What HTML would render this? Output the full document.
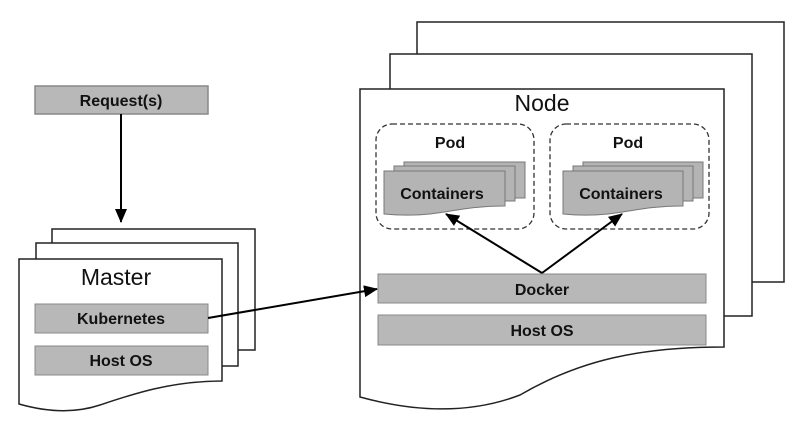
<!DOCTYPE html>
<html><head><style>
html,body{margin:0;padding:0;background:#fff;}
svg{display:block;}
text{font-family:"Liberation Sans",Arial,sans-serif;}
.b{font-weight:bold;font-size:16px;text-anchor:middle;fill:#111;}
</style></head><body>
<svg width="800" height="433" viewBox="0 0 800 433">
<defs>
<marker id="ah2" markerWidth="14" markerHeight="12" refX="13" refY="6" orient="auto" markerUnits="userSpaceOnUse" viewBox="0 0 14 12">
<path d="M0,0 L14,6 L0,12 z" fill="#000"/></marker>
</defs>
<g stroke="#222" stroke-width="1.5" fill="#fff">
<rect x="35" y="86" width="173" height="28" fill="#b8b8b8" stroke="#888"/>
<path d="M52,229 H255 V350 H52 Z"/>
<path d="M36,243 H238 V366 H36 Z"/>
<path d="M19,259 H222 V381 C170,381 130,395 100,405 C70,415 40,410 19,404 Z"/>
<path d="M417,22 H784 V282 H417 Z"/>
<path d="M390,54 H752 V316 H390 Z"/>
<path d="M360,89 H724 V347 C640,347 580,360 520,395 C460,418 400,408 360,397 Z"/>
</g>
<text x="121" y="106" class="b">Request(s)</text>
<line x1="121" y1="114" x2="121" y2="222" stroke="#000" stroke-width="2" marker-end="url(#ah2)"/>
<text x="116" y="285" font-size="23" text-anchor="middle" fill="#111">Master</text>
<rect x="35" y="304" width="173" height="29" fill="#b8b8b8" stroke="#888"/>
<text x="121" y="324" class="b">Kubernetes</text>
<rect x="35" y="346" width="173" height="29" fill="#b8b8b8" stroke="#888"/>
<text x="121" y="366" class="b">Host OS</text>
<text x="542" y="111" font-size="23" text-anchor="middle" fill="#111">Node</text>
<rect x="376" y="124" width="158" height="105" rx="16" fill="none" stroke="#333" stroke-width="1.3" stroke-dasharray="5,3"/>
<rect x="550" y="124" width="159" height="105" rx="16" fill="none" stroke="#333" stroke-width="1.3" stroke-dasharray="5,3"/>
<text x="450" y="148" class="b" font-size="17">Pod</text>
<text x="628" y="148" class="b" font-size="17">Pod</text>
<g fill="#b4b4b4" stroke="#777" stroke-width="1">
<rect x="404" y="162" width="121" height="36"/>
<rect x="394" y="166" width="121" height="35"/>
<path d="M384,171 H505 V206 C470,206 450,212 430,214 C410,216 395,215 384,214 Z"/>
<rect x="583" y="162" width="120" height="36"/>
<rect x="573" y="166" width="120" height="35"/>
<path d="M563,171 H683 V206 C648,206 628,212 608,214 C588,216 573,215 563,214 Z"/>
</g>
<text x="442" y="199" class="b">Containers</text>
<text x="621" y="199" class="b">Containers</text>
<rect x="378" y="274" width="328" height="29" fill="#b8b8b8" stroke="#888"/>
<text x="542" y="295" class="b" font-size="17">Docker</text>
<rect x="378" y="315" width="328" height="30" fill="#b8b8b8" stroke="#888"/>
<text x="542" y="336" class="b" font-size="17">Host OS</text>
<g stroke="#000" stroke-width="2" fill="none">
<line x1="542" y1="273" x2="446" y2="214" marker-end="url(#ah2)"/>
<line x1="542" y1="273" x2="622" y2="214" marker-end="url(#ah2)"/>
<line x1="208" y1="318" x2="377" y2="289" marker-end="url(#ah2)"/>
</g>
</svg>
</body></html>
